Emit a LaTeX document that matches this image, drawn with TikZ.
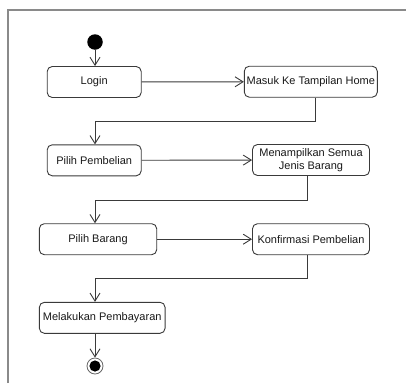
\documentclass[tikz,border=0pt]{standalone}
\usepackage{fontspec}
\setmainfont{Liberation Sans}
\usetikzlibrary{arrows.meta}
\definecolor{edge}{HTML}{3A3A3A}
\definecolor{framegray}{HTML}{8A8A8A}
\tikzset{
  action/.style={draw=edge, line width=0.9pt, rounded corners=5pt, fill=white,
    inner sep=1pt, minimum height=31pt, align=center,
    font=\fontsize{11}{13.5}\selectfont, text=black!90},
  flow/.style={draw=edge, line width=0.9pt,
    -{Straight Barb[length=8pt,width=10pt,line width=0.9pt]}},
}
\begin{document}
\begin{tikzpicture}[x=1pt,y=-1pt]
  \useasboundingbox (0,0) rectangle (406,383);
  % swimlane frame
  \draw[framegray, line width=1.3pt] (8,383) -- (8,10) -- (406,10);

  % start and end states
  \node[circle, fill=black, inner sep=0pt, minimum size=15.5pt] (start) at (95,42) {};
  \node[circle, draw=black!60, line width=0.8pt, fill=white, inner sep=0pt, minimum size=16pt] (stop) at (95,366) {};
  \fill[black] (stop.center) circle (5.6);

  % actions
  \node[action, minimum width=94pt]  (login)  at (94.2,82)  {Login};
  \node[action, minimum width=133pt] (home)   at (310.8,81.7) {Masuk Ke Tampilan Home};
  \node[action, minimum width=94pt]  (pilihpem) at (94.2,160.3) {Pilih Pembelian};
  \node[action, minimum width=117pt] (jenis)  at (311,160) {Menampilkan Semua\\Jenis Barang};
  \node[action, minimum width=117.4pt] (barang) at (98,239.2) {Pilih Barang};
  \node[action, minimum width=117pt] (konfirm) at (311,239.2) {Konfirmasi Pembelian};
  \node[action, minimum width=125.7pt] (bayar) at (102.2,317.8) {Melakukan Pembayaran};

  % bends of the return connectors
  \coordinate (j1) at (95,121);
  \coordinate (j2) at (95,200);
  \coordinate (j3) at (95,278.3);

  % control flow
  \draw[flow] (start) -- (start |- login.north);
  \draw[flow] (login) -- (home);
  \draw[flow] ([xshift=4.9pt]home.south) |- (j1) -- (j1 |- pilihpem.north);
  \draw[flow] (pilihpem) -- (jenis);
  \draw[flow] ([xshift=-3.3pt]jenis.south) |- (j2) -- (j2 |- barang.north);
  \draw[flow] (barang) -- (konfirm);
  \draw[flow] ([xshift=-3.3pt]konfirm.south) |- (j3) -- (j3 |- bayar.north);
  \draw[flow] (stop |- bayar.south) -- (stop.north);
\end{tikzpicture}
\end{document}
